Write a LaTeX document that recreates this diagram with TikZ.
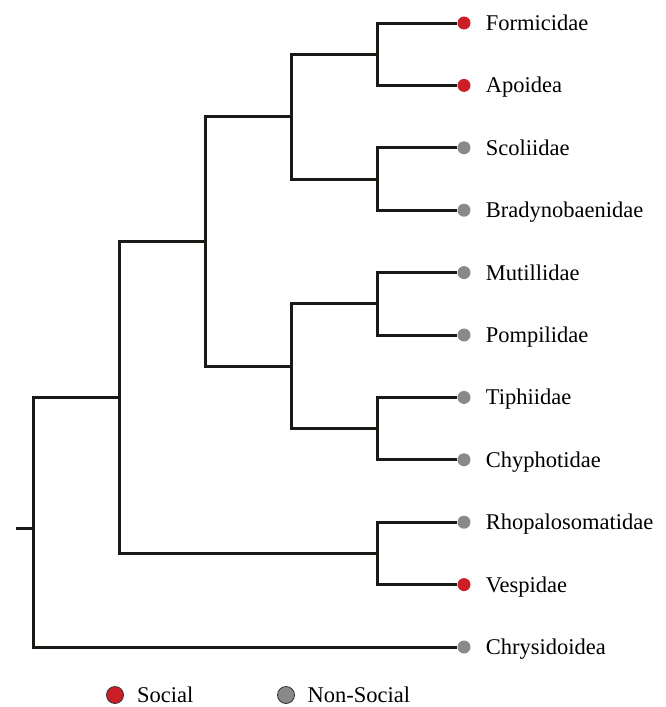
\documentclass[tikz,border=0pt]{standalone}
\usepackage{fontspec}
\setmainfont{Liberation Serif}
\usetikzlibrary{positioning}
\definecolor{socialred}{RGB}{204,30,38}
\definecolor{solitarygray}{RGB}{138,136,138}
\definecolor{branchblack}{RGB}{25,25,22}

\begin{document}
\begin{tikzpicture}[
    x=1pt, y=-1pt,
    node distance=15pt,
    every node/.style={font=\fontsize{22.5}{27}\selectfont},
    branch/.style={draw=branchblack, line width=3pt},
    tip/.style={circle, inner sep=0pt, minimum size=13pt},
    social/.style={tip, fill=socialred},
    nonsocial/.style={tip, fill=solitarygray},
    taxon/.style={inner sep=0pt, text height=15pt, text depth=0pt, anchor=west},
    key/.style={circle, inner sep=0pt, minimum size=17pt, draw=black!80, line width=0.8pt}
]
    \useasboundingbox (0,0) rectangle (665,707);

    % tips
    \node[social] (formicidae) at (464,23) {};
    \node[social] (apoidea) at (464,85.4) {};
    \node[nonsocial] (scoliidae) at (464,147.8) {};
    \node[nonsocial] (bradynobaenidae) at (464,210.2) {};
    \node[nonsocial] (mutillidae) at (464,272.6) {};
    \node[nonsocial] (pompilidae) at (464,335) {};
    \node[nonsocial] (tiphiidae) at (464,397.4) {};
    \node[nonsocial] (chyphotidae) at (464,459.8) {};
    \node[nonsocial] (rhopalosomatidae) at (464,522.2) {};
    \node[social] (vespidae) at (464,584.6) {};
    \node[nonsocial] (chrysidoidea) at (464,647) {};

    % tip labels
    \node[taxon, right=of formicidae] (formicidaetext) {Formicidae};
    \node[taxon, right=of apoidea] (apoideatext) {Apoidea};
    \node[taxon, right=of scoliidae] (scoliidaetext) {Scoliidae};
    \node[taxon, right=of bradynobaenidae] (bradynobaenidaetext) {Bradynobaenidae};
    \node[taxon, right=of mutillidae] (mutillidaetext) {Mutillidae};
    \node[taxon, right=of pompilidae] (pompilidaetext) {Pompilidae};
    \node[taxon, right=of tiphiidae] (tiphiidaetext) {Tiphiidae};
    \node[taxon, right=of chyphotidae] (chyphotidaetext) {Chyphotidae};
    \node[taxon, right=of rhopalosomatidae] (rhopalosomatidaetext) {Rhopalosomatidae};
    \node[taxon, right=of vespidae] (vespidaetext) {Vespidae};
    \node[taxon, right=of chrysidoidea] (chrysidoideatext) {Chrysidoidea};

    % internal nodes
    \coordinate (nFA) at (377,54.2);
    \coordinate (nSB) at (377,179);
    \coordinate (nFASB) at (291,116.6);
    \coordinate (nMP) at (377,303.8);
    \coordinate (nTC) at (377,428.6);
    \coordinate (nMPTC) at (291,366.2);
    \coordinate (nAculeata) at (205,241.4);
    \coordinate (nRV) at (377,553.4);
    \coordinate (nCore) at (119,397.4);
    \coordinate (root) at (33,528);
    \coordinate (stem) at (16,528);

    % branches
    \draw[branch] (formicidae) -| (nFA);
    \draw[branch] (apoidea) -| (nFA);
    \draw[branch] (scoliidae) -| (nSB);
    \draw[branch] (bradynobaenidae) -| (nSB);
    \draw[branch] (nFA) -| (nFASB);
    \draw[branch] (nSB) -| (nFASB);
    \draw[branch] (mutillidae) -| (nMP);
    \draw[branch] (pompilidae) -| (nMP);
    \draw[branch] (tiphiidae) -| (nTC);
    \draw[branch] (chyphotidae) -| (nTC);
    \draw[branch] (nMP) -| (nMPTC);
    \draw[branch] (nTC) -| (nMPTC);
    \draw[branch] (nFASB) -| (nAculeata);
    \draw[branch] (nMPTC) -| (nAculeata);
    \draw[branch] (rhopalosomatidae) -| (nRV);
    \draw[branch] (vespidae) -| (nRV);
    \draw[branch] (nAculeata) -| (nCore);
    \draw[branch] (nRV) -| (nCore);
    \draw[branch] (nCore) -| (root);
    \draw[branch] (chrysidoidea) -| (root);
    \draw[branch] (stem) -- (root);

    % legend
    \node[key, fill=socialred] (socialkey) at (115,695) {};
    \node[taxon, right=13pt of socialkey] (socialtext) {Social};
    \node[key, fill=solitarygray] (nonsocialkey) at (286,695) {};
    \node[taxon, right=12.5pt of nonsocialkey] (nonsocialtext) {Non-Social};
\end{tikzpicture}
\end{document}
